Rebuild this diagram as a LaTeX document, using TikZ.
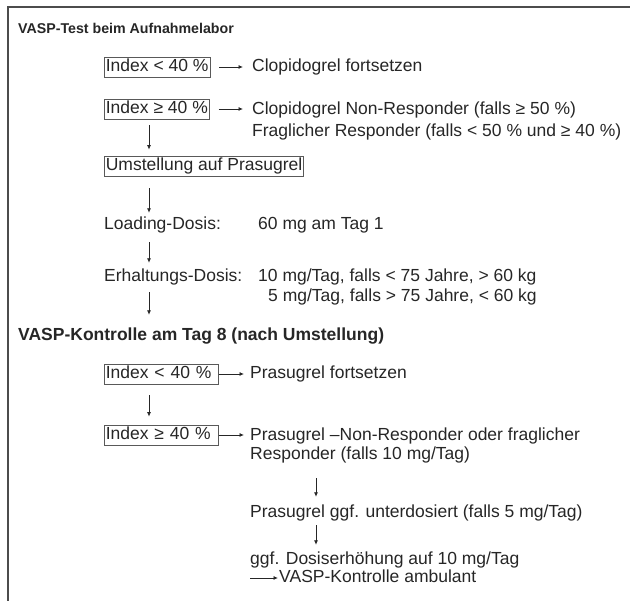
\documentclass[tikz,border=0pt]{standalone}
\usepackage{fontspec}
\setmainfont{Liberation Sans}
\usetikzlibrary{arrows.meta}
\definecolor{ink}{gray}{0.15}
\definecolor{boxc}{gray}{0.35}
\definecolor{framec}{gray}{0.30}
\newcommand\dgbody{\fontsize{17.5}{21}\selectfont}
\newcommand\dghdA{\fontsize{14.2}{17}\selectfont\bfseries}
\newcommand\dghdB{\fontsize{17.5}{21}\selectfont\bfseries}
\begin{document}
\begin{tikzpicture}[x=1pt,y=-1pt,
  txt/.style={anchor=west, inner sep=0pt, text height=12.5pt, text depth=3.5pt, font=\dgbody, text=ink},
  ibox/.style={draw=boxc, line width=0.7pt, anchor=west, inner xsep=1.5pt, inner ysep=2pt,
               text height=12.5pt, text depth=3.5pt, font=\dgbody, text=ink},
  wbox/.style={ibox, text width=111pt, align=left},
  hdA/.style={anchor=west, inner sep=0pt, text height=10pt, text depth=3pt, font=\dghdA, text=ink},
  hdB/.style={anchor=west, inner sep=0pt, text height=12.5pt, text depth=3.5pt, font=\dghdB, text=ink},
  arr/.style={draw=ink, line width=0.8pt, -{Latex[length=4.5pt,width=4pt]}},
  framel/.style={draw=framec, line width=1.6pt}
]
\useasboundingbox (0,0) rectangle (630,601);
\draw[framel] (630,7) -- (8,7) -- (8,601);

\coordinate (ax) at (149,0);
\coordinate (bx) at (316,0);

% Section 1
\node[hdA] (h1) at (18,30) {VASP-Test beim Aufnahmelabor};
\node[ibox] (b1) at (104,67) {Index < 40 \%};
\node[txt] (t1) at (252,67) {Clopidogrel fortsetzen};
\node[ibox] (b2) at (104,109) {Index ≥ 40 \%};
\node[txt] (t2a) at (252,110) {Clopidogrel Non-Responder (falls ≥ 50 \%)};
\node[txt] (t2b) at (252,132) {Fraglicher Responder (falls < 50 \% und ≥ 40 \%)};
\node[ibox] (um) at (104,166) {Umstellung auf Prasugrel};
\node[txt] (ld) at (104,225) {Loading-Dosis:};
\node[txt] (ldv) at (258,225) {60 mg am Tag 1};
\node[txt] (er) at (104,277) {Erhaltungs-Dosis:};
\node[txt] (erv1) at (258,277) {10 mg/Tag, falls < 75 Jahre, > 60 kg};
\node[txt] (erv2) at (268,297) {5 mg/Tag, falls > 75 Jahre, < 60 kg};

\draw[arr, shorten <=9pt, shorten >=9pt] (b1.east) -- (t1.west);
\draw[arr, shorten <=9pt, shorten >=9pt] (b2.east) -- (b2.east -| t2a.west);
\draw[arr, shorten <=6pt, shorten >=6pt] (b2.south -| ax) -- (um.north -| ax);
\draw[arr, shorten <=12pt, shorten >=4pt] (um.south -| ax) -- (ld.north -| ax);
\draw[arr, shorten <=9pt, shorten >=6pt] (ld.south -| ax) -- (er.north -| ax);

% Section 2
\node[hdB] (h2) at (18,336) {VASP-Kontrolle am Tag 8 (nach Umstellung)};
\draw[arr, shorten <=7pt, shorten >=13pt] (er.south -| ax) -- (h2.north -| ax);

\node[wbox] (b3) at (104,374) {Index < 40 \%};
\node[txt] (t3) at (250,374) {Prasugrel fortsetzen};
\node[wbox] (b4) at (104,435) {Index ≥ 40 \%};
\node[txt] (t4a) at (250,436) {Prasugrel –Non-Responder oder fraglicher};
\node[txt] (t4b) at (250,455) {Responder (falls 10 mg/Tag)};
\node[txt] (t5) at (250,513) {Prasugrel ggf. unterdosiert (falls 5 mg/Tag)};
\node[txt] (t6) at (250,560) {ggf. Dosiserhöhung auf 10 mg/Tag};
\coordinate (a7) at (250,578);
\node[txt] (t7) at (279,578) {VASP-Kontrolle ambulant};

\draw[arr, shorten >=6pt] (b3.east) -- (t3.west);
\draw[arr, shorten >=6pt] (b4.east) -- (b4.east -| t4a.west);
\draw[arr, shorten <=11pt, shorten >=8pt] (b3.south -| ax) -- (b4.north -| ax);
\draw[arr, shorten <=15pt, shorten >=8pt] (t4b.south -| bx) -- (t5.north -| bx);
\draw[arr, shorten <=4pt, shorten >=7pt] (t5.south -| bx) -- (t6.north -| bx);
\draw[arr, shorten >=1pt] (a7) -- (t7.west);
\end{tikzpicture}
\end{document}
